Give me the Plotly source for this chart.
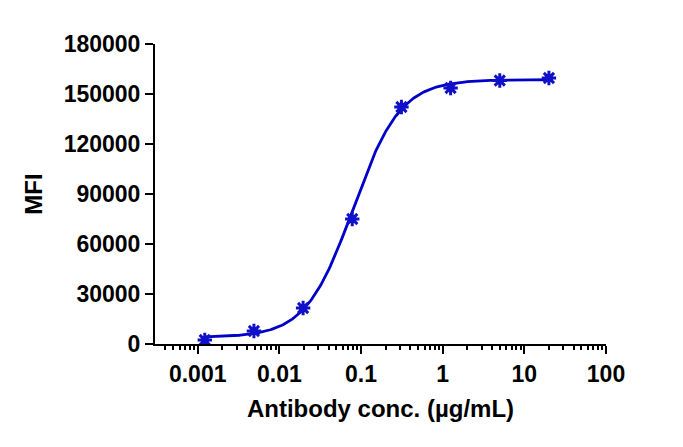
import numpy as np
import plotly.graph_objects as go

# Data points (antibody concentration in µg/mL, MFI)
conc = [20, 5, 1.25, 0.3125, 0.078125, 0.01953, 0.004883, 0.001221]
mfi = [159600, 158100, 153600, 142200, 75000, 21600, 7800, 2400]

# 4PL fit parameters
fit_bottom = 4000
fit_top = 158600
fit_ec50 = 0.08
fit_hill = 1.5

x_tickvals = [0.001, 0.01, 0.1, 1, 10, 100]
x_ticktext = ["0.001", "0.01", "0.1", "1", "10", "100"]
y_tickvals = [0, 30000, 60000, 90000, 120000, 150000, 180000]
y_ticktext = ["0", "30000", "60000", "90000", "120000", "150000", "180000"]

xf = np.logspace(np.log10(min(conc)), np.log10(max(conc)), 300)
yf = fit_bottom + (fit_top - fit_bottom) / (1 + (fit_ec50 / xf) ** fit_hill)

minor_vals = [m * 10.0 ** e for e in range(-4, 2) for m in range(2, 10)]
minor_vals = [v for v in minor_vals if v >= 0.0004]

blue = "#1010c8"
fig = go.Figure()
fig.add_trace(go.Scatter(x=xf, y=yf, mode="lines",
                         line=dict(color="#0000c8", width=2.8),
                         hoverinfo="skip", showlegend=False))
fig.add_trace(go.Scatter(x=conc, y=mfi, mode="markers",
                         marker=dict(symbol="circle", size=8, color=blue,
                                     line=dict(width=0)),
                         showlegend=False))
fig.add_trace(go.Scatter(x=conc, y=mfi, mode="markers",
                         marker=dict(symbol="asterisk", size=12, color=blue,
                                     line=dict(width=3, color=blue)),
                         showlegend=False))

tickfont = dict(family="Liberation Sans, Arial, sans-serif", size=23, color="black", weight="bold")
fig.update_layout(
    width=683, height=447,
    margin=dict(l=147, r=85, t=36, b=111),
    plot_bgcolor="white", paper_bgcolor="white",
    font=dict(family="Liberation Sans, Arial, sans-serif", size=23, color="black"),
    xaxis=dict(type="log", range=[np.log10(0.0003), 2.0],
               tickvals=x_tickvals, ticktext=x_ticktext,
               ticks="outside", ticklen=8, tickwidth=2, tickcolor="black",
               showline=True, linewidth=2, linecolor="black",
               showgrid=False, zeroline=False,
               tickfont=tickfont,
               minor=dict(tickvals=minor_vals, ticks="outside", ticklen=4,
                          tickwidth=2, tickcolor="black", showgrid=False),
               title=dict(text="<b>Antibody conc. (µg/mL)</b>", standoff=15,
                          font=dict(size=24))),
    yaxis=dict(range=[0, 180000], tickvals=y_tickvals, ticktext=y_ticktext,
               ticks="outside", ticklen=8, tickwidth=2, tickcolor="black",
               showline=True, linewidth=2, linecolor="black",
               showgrid=False, zeroline=False,
               tickfont=tickfont,
               title=dict(text="<b>MFI</b>", standoff=14, font=dict(size=24))),
)
fig.write_html("out.html")
